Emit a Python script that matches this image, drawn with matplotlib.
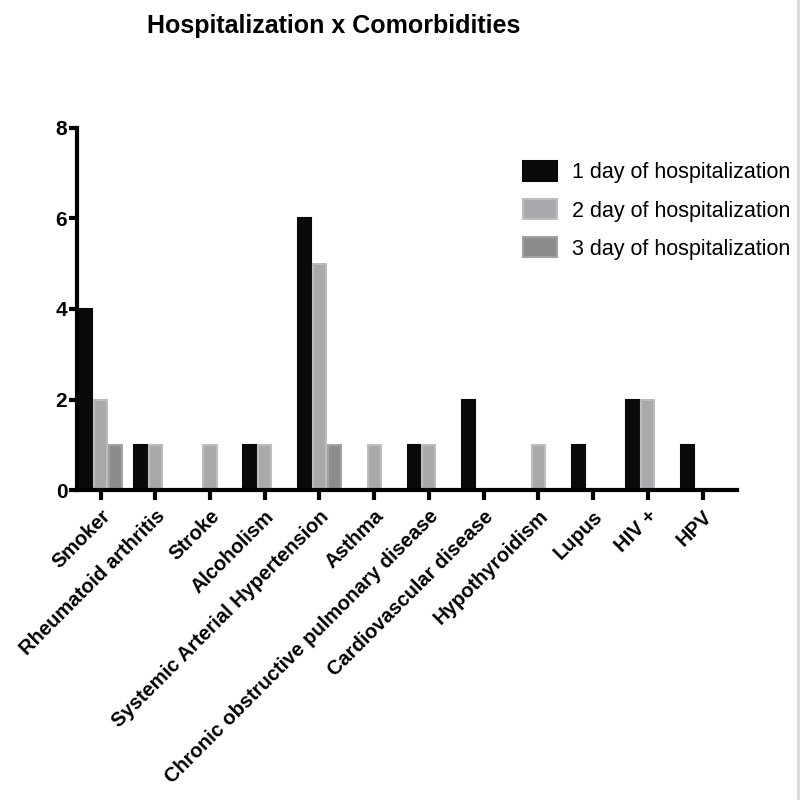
import matplotlib
matplotlib.use('Agg')
import matplotlib.pyplot as plt
import numpy as np
from matplotlib.lines import Line2D

plt.rcParams['font.family'] = ['Liberation Sans', 'DejaVu Sans']

categories = ['Smoker', 'Rheumatoid arthritis', 'Stroke', 'Alcoholism',
              'Systemic Arterial Hypertension', 'Asthma',
              'Chronic obstructive pulmonary disease', 'Cardiovascular disease',
              'Hypothyroidism', 'Lupus', 'HIV +', 'HPV']
day1 = [4, 1, 0, 1, 6, 0, 1, 2, 0, 1, 2, 1]
day2 = [2, 1, 1, 1, 5, 1, 1, 0, 1, 0, 2, 0]
day3 = [1, 0, 0, 0, 1, 0, 0, 0, 0, 0, 0, 0]
series_names = ['1 day of hospitalization', '2 day of hospitalization',
                '3 day of hospitalization']

fig = plt.figure(figsize=(8, 8), dpi=100)
ax = fig.add_axes([0.09625, 0.3875, 0.825, 0.4525])

x = np.arange(len(categories))
w = 0.24
styles = [('#0a0a0a', '#0a0a0a'), ('#a9a9ab', '#bdbdbd'), ('#8c8c8c', '#a3a3a3')]
for vals, off, (fc, ec), name in zip([day1, day2, day3], [-0.27, 0, 0.27], styles, series_names):
    ax.bar(x + off + 0.03, vals, width=w, color=fc, edgecolor=ec, linewidth=1.5, label=name)

ax.set_xlim(-0.4, 11.66)
ax.set_ylim(0, 8)
ax.set_yticks([0, 2, 4, 6, 8])
ax.set_xticks(x + 0.03)
ax.set_xticklabels(categories, rotation=45, ha='right', rotation_mode='anchor',
                   fontsize=14.5, fontweight='bold')
for lab in ax.get_yticklabels():
    lab.set_fontweight('bold')
    lab.set_fontsize(15)

for s in ['top', 'right']:
    ax.spines[s].set_visible(False)
for s in ['left', 'bottom']:
    ax.spines[s].set_linewidth(3)
ax.tick_params(axis='both', width=3, length=7, direction='out', pad=3)
ax.tick_params(axis='x', pad=5)
ax.tick_params(axis='y', length=6, pad=1)

fig.text(0.4175, 0.968, 'Hospitalization x Comorbidities', ha='center', va='center',
         fontsize=18, fontweight='bold')

ax.legend(loc='upper left', bbox_to_anchor=(0.63, 0.823), bbox_transform=fig.transFigure,
          frameon=False, fontsize=15.5, handlelength=1.55, handleheight=1.05,
          handletextpad=0.7, labelspacing=0.74)

fig.add_artist(Line2D([0.997, 0.997], [0, 1], color='#d8d8d8', linewidth=2,
                      transform=fig.transFigure))

fig.savefig('out.png', dpi=100)
